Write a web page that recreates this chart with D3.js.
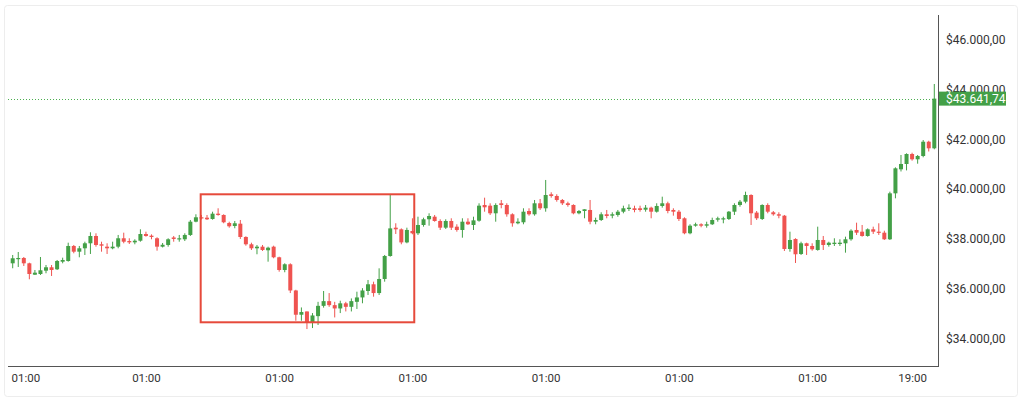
<!DOCTYPE html>
<html>
<head>
<meta charset="utf-8">
<script src="https://cdn.jsdelivr.net/npm/d3@7"></script>
<style>
  html, body { margin: 0; padding: 0; background: #ffffff; }
  svg { display: block; }
  text { font-family: Roboto, "Noto Sans", sans-serif; }
</style>
</head>
<body>
<svg id="chart" width="1024" height="399"></svg>
<script>
// ---- DATA (hourly candles, index 0 = 01:00) ----
const opens = [
37017,37191,37231,37017,36559,36587,36720,36857,36776,37082,
37110,37714,37484,37621,37822,38116,37782,37686,37621,37686,
38024,37913,37860,37926,38195,38128,38024,37686,37754,38056,
37983,37983,38157,38691,38868,38852,38800,39013,38961,38639,
38518,38611,38076,37782,37621,37686,37541,37686,37259,36748,
36978,35924,34948,35080,34653,34892,35306,35495,35334,35201,
35407,35266,35467,35644,35903,36173,35820,36386,37311,38450,
38385,37858,38317,38225,38558,38788,38892,38719,38450,38719,
38490,38357,38691,38558,38731,39363,39335,39029,39431,39363,
38989,38627,38667,39121,38989,39431,39230,39793,39725,39564,
39431,39363,39029,39121,39162,38691,38759,38989,38933,38961,
39093,39202,39230,39230,39174,39255,39093,39323,39431,39162,
39093,38828,38225,38530,38587,38530,38587,38772,38788,38800,
39093,39363,39496,39765,39056,38800,39363,39069,38989,38933,
37593,37996,37392,37822,37714,37553,37955,37754,37794,37794,
37822,37983,38357,38289,38116,38385,38289,38249,37983,39832,
40798,41012,41414,41201,41334,41908,41643
];
const highs = [
37352,37472,37271,37042,36748,37271,36949,36949,37150,37243,
37846,37754,37714,37886,38265,38224,37886,37822,37886,38157,
38249,38024,37983,38385,38289,38181,38064,37834,38024,38116,
38157,38224,38759,38989,38961,38961,39093,39230,38989,38691,
38719,38759,38104,37846,37754,37754,37686,37726,37283,37017,
37017,35952,35241,35080,35015,35467,35903,35820,35467,35512,
35467,35604,35875,36017,36346,36278,36815,37352,39793,38627,
38422,38450,38828,38892,38852,39029,38961,38788,38788,38828,
38587,38828,38828,38892,39431,39657,39431,39431,39564,39431,
39029,38828,39230,39230,39564,39604,40369,39874,39793,39604,
39496,39391,39162,39190,39564,38852,39069,39162,39069,39162,
39335,39391,39335,39335,39363,39295,39431,39697,39496,39230,
39162,38868,38587,38651,38627,38691,38852,38892,38892,39121,
39431,39564,39898,39793,39121,39391,39431,39121,39069,38961,
38289,38024,37886,37846,37822,38490,38116,37886,38024,37983,
38088,38385,38651,38558,38422,38490,38627,38329,39898,40878,
41374,41442,41466,41374,41976,41948,44230
];
const lows = [
36817,36869,36909,36374,36547,36547,36616,36507,36748,37017,
37082,37420,37259,37352,37392,37686,37484,37392,37581,37621,
37822,37794,37782,37886,38088,37983,37525,37654,37686,37886,
37886,37913,38116,38667,38780,38759,38772,38933,38627,38450,
38426,37996,37726,37553,37380,37513,37082,37219,36680,36656,
35820,34706,34706,34372,34412,34536,35233,35266,34839,35015,
35080,35080,35180,35409,35743,35674,35743,36278,37283,38197,
37782,37822,38185,38157,38490,38530,38691,38357,38398,38357,
38289,38048,38558,38357,38691,39093,38961,38691,39230,38892,
38490,38587,38587,38933,38933,39162,39093,39657,39496,39363,
39295,38989,38989,38828,38587,38587,38719,38828,38828,38892,
39029,39121,39069,39093,39093,38828,39056,39255,39029,38933,
38719,38185,38185,38490,38466,38450,38558,38691,38627,38759,
38961,39295,39431,38558,38759,38759,39029,38933,38828,37513,
37484,37030,37352,37352,37525,37525,37553,37686,37714,37714,
37445,37926,38157,38088,38088,38197,38157,37955,37955,39631,
40711,40755,41145,41024,41282,41515,41603
];
const closes = [
37219,37231,37017,36587,36640,36736,36857,36748,37110,37150,
37714,37484,37621,37822,38116,37754,37726,37621,37686,38024,
37886,37860,37926,38195,38116,38076,37686,37762,37983,37996,
38024,38157,38691,38868,38848,38788,39013,38961,38667,38506,
38627,38076,37782,37621,37686,37553,37645,37259,36748,36978,
35924,34948,35056,34637,34919,35306,35495,35334,35201,35407,
35266,35495,35644,35924,36173,35820,36386,37311,38422,38385,
37858,38358,38225,38558,38788,38920,38719,38450,38719,38450,
38357,38691,38587,38745,39335,39270,39029,39363,39363,38989,
38627,38691,39093,38989,39431,39230,39765,39725,39564,39431,
39363,39029,39121,39190,38691,38759,38989,38920,38989,39093,
39230,39255,39162,39162,39255,39093,39323,39431,39121,39093,
38800,38225,38530,38587,38530,38587,38759,38828,38828,39093,
39363,39496,39765,39029,38828,39363,39093,38989,38933,37593,
37955,37380,37822,37714,37581,37955,37754,37846,37846,37846,
37983,38329,38249,38116,38385,38289,38249,37983,39832,40838,
41012,41414,41201,41334,41908,41643,43641.74
];

const yTicks = [34000, 36000, 38000, 40000, 42000, 44000, 46000];
const xTickHours = [0, 24, 48, 72, 96, 120, 144, 162];
const xTickLabels = ["01:00", "01:00", "01:00", "01:00", "01:00", "01:00", "01:00", "19:00"];

// highlighted region (hours, prices)
const highlightHours = [33.86, 72.33];
const highlightPrices = [34644, 39793];

// ---- LAYOUT ----
const W = 1024, H = 399;
const plotLeft = 8, plotRight = 938, plotTop = 15, plotBottom = 366;
const green = "#43a047", red = "#ef5350";

const svg = d3.select("#chart");

const candles = opens.map((o, i) => ({ i, o, h: highs[i], l: lows[i], c: closes[i] }));

const x = d3.scaleLinear().domain([0, candles.length - 1]).range([12.7, 934.3]);
const y = d3.scaleLinear().domain([34000, 46000]).range([338.3, 40]);

const locale = d3.formatLocale({ decimal: ",", thousands: ".", grouping: [3], currency: ["$", ""] });
const fmt = locale.format("$,.2f");

// card frame
svg.append("rect")
  .attr("x", 4.5).attr("y", 5.5).attr("width", 1013).attr("height", 391)
  .attr("fill", "#ffffff").attr("stroke", "#ededed").attr("stroke-width", 1).attr("rx", 3);

// last price dotted line
const last = closes[closes.length - 1];
svg.append("line")
  .attr("x1", plotLeft).attr("x2", plotRight)
  .attr("y1", Math.round(y(last)) + 0.5).attr("y2", Math.round(y(last)) + 0.5)
  .attr("stroke", "#4caf50").attr("stroke-width", 1).attr("stroke-dasharray", "1 2");

// candles
const g = svg.append("g");
const bw = 4;
g.selectAll("line.wick").data(candles).join("line")
  .attr("class", "wick")
  .attr("x1", d => x(d.i)).attr("x2", d => x(d.i))
  .attr("y1", d => y(d.h)).attr("y2", d => y(d.l))
  .attr("stroke", d => d.c >= d.o ? green : red)
  .attr("stroke-width", 1);
g.selectAll("rect.body").data(candles).join("rect")
  .attr("class", "body")
  .attr("x", d => x(d.i) - bw / 2)
  .attr("width", bw)
  .attr("y", d => y(Math.max(d.o, d.c)))
  .attr("height", d => Math.max(1.2, Math.abs(y(d.o) - y(d.c))))
  .attr("fill", d => d.c >= d.o ? green : red);

// highlight box
svg.append("rect")
  .attr("x", x(highlightHours[0])).attr("y", y(highlightPrices[1]))
  .attr("width", x(highlightHours[1]) - x(highlightHours[0]))
  .attr("height", y(highlightPrices[0]) - y(highlightPrices[1]))
  .attr("fill", "none").attr("stroke", "#e64a3b").attr("stroke-width", 2);

// axis lines
svg.append("line").attr("x1", plotRight + 0.5).attr("x2", plotRight + 0.5)
  .attr("y1", plotTop).attr("y2", plotBottom + 0.5)
  .attr("stroke", "#555").attr("stroke-width", 1);
svg.append("line").attr("x1", plotLeft).attr("x2", plotRight + 1)
  .attr("y1", plotBottom + 0.5).attr("y2", plotBottom + 0.5)
  .attr("stroke", "#555").attr("stroke-width", 1);

// y axis
const yAxis = svg.append("g")
  .attr("transform", `translate(${plotRight},0)`)
  .call(d3.axisRight(y).tickValues(yTicks).tickFormat(fmt).tickSize(0).tickPadding(8));
yAxis.select(".domain").remove();
yAxis.selectAll("text").attr("font-size", 12).attr("fill", "#333")
  .attr("font-family", "Roboto, sans-serif");

// x axis
const xAxis = svg.append("g")
  .attr("transform", `translate(0,${plotBottom})`)
  .call(d3.axisBottom(x).tickValues(xTickHours)
    .tickFormat((d, k) => xTickLabels[k]).tickSize(0).tickPadding(8));
xAxis.select(".domain").remove();
xAxis.selectAll("text").attr("font-size", 11.5).attr("fill", "#333")
  .attr("font-family", "Roboto, sans-serif");
// keep first label inside the frame
xAxis.selectAll(".tick").each(function(d) {
  const t = d3.select(this).select("text");
  const w = this.getBBox().width;
  if (x(d) - w / 2 < 10) t.attr("text-anchor", "start").attr("x", 11 - x(d));
});

// last price tag
const tagY = y(last);
svg.append("rect")
  .attr("x", plotRight + 1).attr("y", tagY - 7).attr("width", 67).attr("height", 14)
  .attr("fill", green);
svg.append("text")
  .attr("x", plotRight + 8).attr("y", tagY).attr("dy", "0.35em")
  .attr("font-size", 12).attr("fill", "#ffffff")
  .attr("font-family", "Roboto, sans-serif")
  .text(fmt(last));
</script>
</body>
</html>
